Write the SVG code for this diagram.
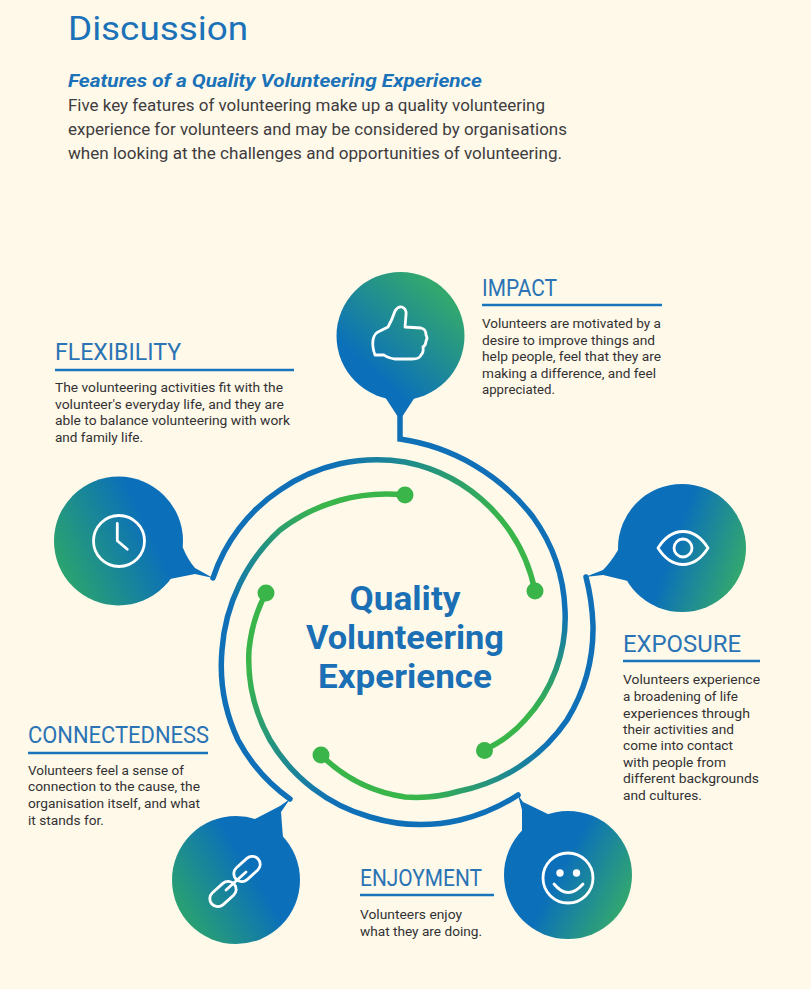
<svg xmlns="http://www.w3.org/2000/svg" width="811" height="989" viewBox="0 0 811 989">
<style>
text{font-family:"Roboto","Liberation Sans",sans-serif}
.title{font-size:33px;fill:#1b72b8;font-weight:400}
.sub{font-size:19px;fill:#1b72b8;font-weight:700;font-style:italic}
.intro{font-size:17px;fill:#3e3c3e}
.head{font-size:24px;fill:#2a73b5}
.body{font-size:12.5px;fill:#333133;font-weight:400}
.center{font-size:33px;fill:#1a6fb5;font-weight:700;text-anchor:middle}
.rule{stroke:#1b75bc;stroke-width:2.5;fill:none}
.wire{fill:none;stroke-width:5.5;stroke-linecap:round;stroke-linejoin:miter}
.dot{fill:#3ab54a}
.icon{fill:none;stroke:#fff;stroke-width:2.8;stroke-linecap:round;stroke-linejoin:round}
</style>
<defs>
<linearGradient id="gA" gradientUnits="userSpaceOnUse" x1="375" y1="375" x2="445" y2="295"><stop offset="0" stop-color="#0b6fba"/><stop offset="1" stop-color="#33a86e"/></linearGradient>
<linearGradient id="gB" gradientUnits="userSpaceOnUse" x1="62" y1="572" x2="150" y2="530"><stop offset="0" stop-color="#2ba36f"/><stop offset="1" stop-color="#0b6fba"/></linearGradient>
<linearGradient id="gC" gradientUnits="userSpaceOnUse" x1="185" y1="925" x2="258" y2="880"><stop offset="0" stop-color="#2ba36f"/><stop offset="1" stop-color="#0b6fba"/></linearGradient>
<linearGradient id="gD" gradientUnits="userSpaceOnUse" x1="565" y1="860" x2="632" y2="895"><stop offset="0" stop-color="#0b6fba"/><stop offset="1" stop-color="#33a86e"/></linearGradient>
<linearGradient id="gE" gradientUnits="userSpaceOnUse" x1="676" y1="535" x2="746" y2="560"><stop offset="0" stop-color="#0b6fba"/><stop offset="1" stop-color="#33a86e"/></linearGradient>
<linearGradient id="w1" gradientUnits="userSpaceOnUse" x1="330" y1="470" x2="505" y2="520"><stop offset="0" stop-color="#0f70b8"/><stop offset="1" stop-color="#3ab54a"/></linearGradient>
<linearGradient id="w2" gradientUnits="userSpaceOnUse" x1="0" y1="610" x2="0" y2="715"><stop offset="0" stop-color="#0f70b8"/><stop offset="1" stop-color="#3ab54a"/></linearGradient>
<linearGradient id="w3" gradientUnits="userSpaceOnUse" x1="550" y1="740" x2="420" y2="800"><stop offset="0" stop-color="#0f70b8"/><stop offset="1" stop-color="#3ab54a"/></linearGradient>
<linearGradient id="w4" gradientUnits="userSpaceOnUse" x1="330" y1="805" x2="250" y2="670"><stop offset="0" stop-color="#0f70b8"/><stop offset="1" stop-color="#3ab54a"/></linearGradient>
<linearGradient id="w5" gradientUnits="userSpaceOnUse" x1="232" y1="610" x2="320" y2="505"><stop offset="0" stop-color="#0f70b8"/><stop offset="1" stop-color="#3ab54a"/></linearGradient>
</defs>
<rect width="811" height="989" fill="#fef9e9"/>
<g id="header">
<text class="title" x="68" y="40" textLength="180" lengthAdjust="spacingAndGlyphs">Discussion</text>
<text class="sub" x="68" y="87" textLength="414" lengthAdjust="spacingAndGlyphs">Features of a Quality Volunteering Experience</text>
<text class="intro" x="68" y="111" textLength="477" lengthAdjust="spacingAndGlyphs">Five key features of volunteering make up a quality volunteering</text>
<text class="intro" x="68" y="134.5" textLength="499" lengthAdjust="spacingAndGlyphs">experience for volunteers and may be considered by organisations</text>
<text class="intro" x="68" y="158.5" textLength="494" lengthAdjust="spacingAndGlyphs">when looking at the challenges and opportunities of volunteering.</text>
</g>
<g id="connectors">
<path class="wire" stroke="url(#w1)" d="M213,578 A170,170 0 0 1 280,490 A170,170 0 0 1 405,462 A165,165 0 0 1 535,591"/>
<path class="wire" stroke="url(#w2)" d="M400,415 V439 A205,205 0 0 1 533,517 A170,170 0 0 1 565,610 A150,150 0 0 1 525,720 A120,120 0 0 1 484,750"/>
<path class="wire" stroke="url(#w3)" d="M586,577 Q592,600 593,625 A175,175 0 0 1 567,720 A170,170 0 0 1 460,791 A155,155 0 0 1 405,797 A150,150 0 0 1 321,755"/>
<path class="wire" stroke="url(#w4)" d="M518,795 A190,190 0 0 1 460,820 A175,175 0 0 1 370,817 A170,170 0 0 1 270,740 A165,165 0 0 1 249,650 A150,150 0 0 1 266,593"/>
<path class="wire" stroke="url(#w5)" d="M290,799 A175,175 0 0 1 238,740 A175,175 0 0 1 222,650 A180,180 0 0 1 280,530 A175,175 0 0 1 405,495"/>
<circle class="dot" cx="535" cy="591" r="8.5"/>
<circle class="dot" cx="484.500" cy="750.500" r="8.500"/>
<circle class="dot" cx="321" cy="755" r="8.500"/>
<circle class="dot" cx="266" cy="593" r="8.500"/>
<circle class="dot" cx="405" cy="495" r="8.500"/>
</g>
<g id="center">
<text class="center" x="405" y="610" textLength="111" lengthAdjust="spacingAndGlyphs">Quality</text>
<text class="center" x="405" y="649" textLength="198" lengthAdjust="spacingAndGlyphs">Volunteering</text>
<text class="center" x="405" y="688" textLength="174" lengthAdjust="spacingAndGlyphs">Experience</text>
</g>
<g id="impact">
<circle cx="400.500" cy="336" r="64" fill="url(#gA)"/>
<path fill="url(#gA)" d="M417,394 L400,420 L383,394 Z"/>
<path class="icon" d="M375,355 Q372,347 373,340 Q374,333 380,331 L388,327 Q392,320 395,311 Q398,306 402,307 Q407,309 406,315 L405,327 L421,328 Q426,329 426,335 Q428,338 426,341 Q426,345 423,347 Q424,352 421,355 Q420,359 412,359 L395,359 Q388,358 384,355 Z"/>
<text class="head" x="482" y="296" textLength="75" lengthAdjust="spacingAndGlyphs">IMPACT</text>
<line class="rule" x1="482" y1="305" x2="662" y2="305"/>
<text class="body" x="482" y="328" textLength="179" lengthAdjust="spacingAndGlyphs">Volunteers are motivated by a</text>
<text class="body" x="482" y="345" textLength="173" lengthAdjust="spacingAndGlyphs">desire to improve things and</text>
<text class="body" x="482" y="361" textLength="179" lengthAdjust="spacingAndGlyphs">help people, feel that they are</text>
<text class="body" x="482" y="378" textLength="174" lengthAdjust="spacingAndGlyphs">making a difference, and feel</text>
<text class="body" x="482" y="394" textLength="73" lengthAdjust="spacingAndGlyphs">appreciated.</text>
</g>
<g id="flexibility">
<circle cx="118.500" cy="541" r="64.500" fill="url(#gB)"/>
<path fill="url(#gB)" d="M178,540 L183,548 Q188,560 195,568 L213,578 L195,574 L170,579 L150,570 Z"/>
<circle class="icon" cx="119" cy="541" r="25.500"/>
<path class="icon" d="M117.300,523.500 V540.700 L127.300,549.300"/>
<text class="head" x="55" y="360" textLength="126" lengthAdjust="spacingAndGlyphs">FLEXIBILITY</text>
<line class="rule" x1="55" y1="370" x2="294" y2="370"/>
<text class="body" x="55" y="392" textLength="228" lengthAdjust="spacingAndGlyphs">The volunteering activities fit with the</text>
<text class="body" x="55" y="409" textLength="229" lengthAdjust="spacingAndGlyphs">volunteer's everyday life, and they are</text>
<text class="body" x="55" y="425" textLength="235" lengthAdjust="spacingAndGlyphs">able to balance volunteering with work</text>
<text class="body" x="55" y="442" textLength="88" lengthAdjust="spacingAndGlyphs">and family life.</text>
</g>
<g id="exposure">
<circle cx="682" cy="548" r="64" fill="url(#gE)"/>
<path fill="url(#gE)" d="M625,540 L618,550 Q611,562 603,570 L585,577 L603,575 L628,581 L650,570 Z"/>
<path class="icon" d="M658,548 C672,526 694,526 708,548 C694,570 672,570 658,548 Z"/>
<circle class="icon" cx="683" cy="548" r="9"/>
<text class="head" x="623" y="652" textLength="118" lengthAdjust="spacingAndGlyphs">EXPOSURE</text>
<line class="rule" x1="623" y1="661" x2="760" y2="661"/>
<text class="body" x="623" y="684" textLength="137" lengthAdjust="spacingAndGlyphs">Volunteers experience</text>
<text class="body" x="623" y="701" textLength="115" lengthAdjust="spacingAndGlyphs">a broadening of life</text>
<text class="body" x="623" y="718" textLength="127" lengthAdjust="spacingAndGlyphs">experiences through</text>
<text class="body" x="623" y="734" textLength="111" lengthAdjust="spacingAndGlyphs">their activities and</text>
<text class="body" x="623" y="750" textLength="110" lengthAdjust="spacingAndGlyphs">come into contact</text>
<text class="body" x="623" y="767" textLength="103" lengthAdjust="spacingAndGlyphs">with people from</text>
<text class="body" x="623" y="783" textLength="136" lengthAdjust="spacingAndGlyphs">different backgrounds</text>
<text class="body" x="623" y="800" textLength="79" lengthAdjust="spacingAndGlyphs">and cultures.</text>
</g>
<g id="enjoyment">
<circle cx="568" cy="875" r="64" fill="url(#gD)"/>
<path fill="url(#gD)" d="M552,816 L523,802 L518,795 L522,810 L522,838 L545,850 Z"/>
<circle class="icon" cx="568" cy="878" r="25"/>
<circle cx="560" cy="873" r="3.700" fill="#fff"/>
<circle cx="576.500" cy="873" r="3.700" fill="#fff"/>
<path class="icon" d="M554,884 Q568,901 583,884"/>
<text class="head" x="360" y="886" textLength="122" lengthAdjust="spacingAndGlyphs">ENJOYMENT</text>
<line class="rule" x1="360" y1="895" x2="494" y2="895"/>
<text class="body" x="360" y="919" textLength="102" lengthAdjust="spacingAndGlyphs">Volunteers enjoy</text>
<text class="body" x="360" y="936" textLength="122" lengthAdjust="spacingAndGlyphs">what they are doing.</text>
</g>
<g id="connectedness">
<circle cx="236" cy="880" r="64" fill="url(#gC)"/>
<path fill="url(#gC)" d="M255,819 L280,806 L290,799 L281,812 L283,838 L260,850 Z"/>
<rect class="icon" x="232" y="861" width="30" height="16" rx="8" transform="rotate(-42 247 869)"/>
<rect class="icon" x="208" y="886" width="30" height="16" rx="8" transform="rotate(-42 223 894)"/>
<line class="icon" x1="226" y1="890" x2="246" y2="872"/>
<text class="head" x="28" y="743" textLength="181" lengthAdjust="spacingAndGlyphs">CONNECTEDNESS</text>
<line class="rule" x1="28" y1="753" x2="208" y2="753"/>
<text class="body" x="28" y="775" textLength="156" lengthAdjust="spacingAndGlyphs">Volunteers feel a sense of</text>
<text class="body" x="28" y="791" textLength="172" lengthAdjust="spacingAndGlyphs">connection to the cause, the</text>
<text class="body" x="28" y="808" textLength="172" lengthAdjust="spacingAndGlyphs">organisation itself, and what</text>
<text class="body" x="28" y="825" textLength="76" lengthAdjust="spacingAndGlyphs">it stands for.</text>
</g>
</svg>
